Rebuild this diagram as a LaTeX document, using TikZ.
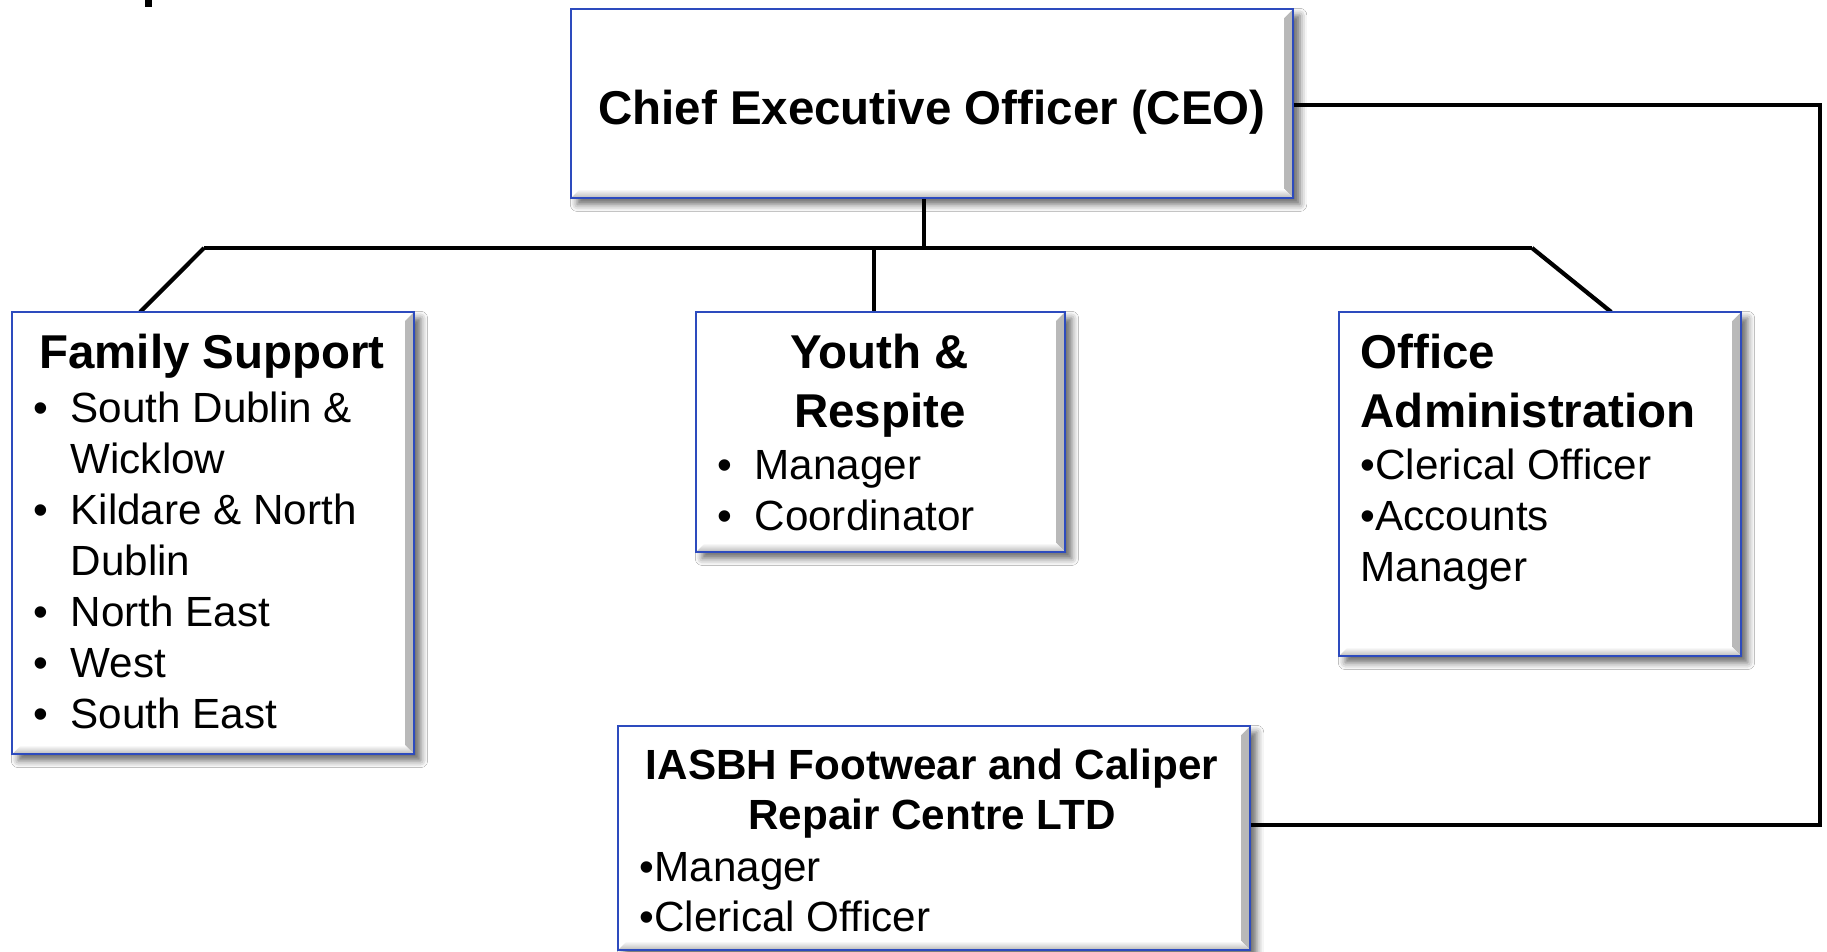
\documentclass[tikz,border=0pt]{standalone}
\usepackage{fontspec}
\setmainfont{Liberation Sans}
\usetikzlibrary{shadows.blur,backgrounds}
\definecolor{boxblue}{RGB}{45,75,190}
\newcommand\bul{\makebox[10.5pt][l]{\textbullet}}
\newcommand\bulsp{\hspace*{10.5pt}}
\begin{document}
\begin{tikzpicture}[x=0.01cm,y=-0.01cm,
  box/.style={draw=boxblue, line width=0.6pt, fill=white, inner sep=0pt, outer sep=0pt,
    anchor=north west,
    blur shadow={shadow xshift=1.8pt, shadow yshift=-1.8pt, shadow blur radius=2pt, shadow opacity=60},
    path picture={
      \shade[left color=white, right color=black!28]
        (path picture bounding box.north east) -- (path picture bounding box.south east)
        -- ([shift={(-2.6pt,2.6pt)}]path picture bounding box.south east)
        -- ([shift={(-2.6pt,-2.6pt)}]path picture bounding box.north east) -- cycle;
      \shade[top color=white, bottom color=black!28]
        (path picture bounding box.south west) -- (path picture bounding box.south east)
        -- ([shift={(-2.6pt,2.6pt)}]path picture bounding box.south east)
        -- ([shift={(2.6pt,2.6pt)}]path picture bounding box.south west) -- cycle;
    }},
  conn/.style={line width=1.2pt, black, line join=miter},
  ttl/.style={inner sep=0pt, font=\fontsize{13.5}{16.5}\selectfont\bfseries},
  itm/.style={inner sep=0pt, font=\fontsize{12}{14.5}\selectfont},
]
\useasboundingbox (0,0) rectangle (1827,952);
\fill[black] (145,0) rectangle (152,7);

% boxes
\node[box, minimum width=7.22cm, minimum height=1.89cm] (ceo) at (571,9) {};
\node[ttl, anchor=base] (ceoT) at (932,125) {Chief Executive Officer (CEO)};

\node[box, minimum width=4.02cm, minimum height=4.42cm] (fam) at (12,312) {};
\node[ttl, anchor=base] (famT) at (212,369) {Family Support};
\node[itm, anchor=base west] (famL) at (33,423) {\begin{tabular}[t]{@{}l@{}}\bul South Dublin \&\\ \bulsp Wicklow\\ \bul Kildare \& North\\ \bulsp Dublin\\ \bul North East\\ \bul West\\ \bul South East\end{tabular}};

\node[box, minimum width=3.69cm, minimum height=2.40cm] (youth) at (696,312) {};
\node[ttl, anchor=base] (youthT) at (880,369) {\begin{tabular}[t]{@{}c@{}}Youth \&\\ Respite\end{tabular}};
\node[itm, anchor=base west] (youthL) at (717,480) {\begin{tabular}[t]{@{}l@{}}\bul Manager\\ \bul Coordinator\end{tabular}};

\node[box, minimum width=4.02cm, minimum height=3.44cm] (office) at (1339,312) {};
\node[ttl, anchor=base west] (officeT) at (1360,369) {\begin{tabular}[t]{@{}l@{}}Office\\ Administration\end{tabular}};
\node[itm, anchor=base west] (officeL) at (1360,480) {\begin{tabular}[t]{@{}l@{}}\textbullet Clerical Officer\\ \textbullet Accounts\\ Manager\end{tabular}};

\node[box, minimum width=6.32cm, minimum height=2.24cm] (iasbh) at (618,726) {};
\node[itm, font=\fontsize{12}{14.5}\selectfont\bfseries, anchor=base] (iasbhT) at (932,779) {\begin{tabular}[t]{@{}c@{}}IASBH Footwear and Caliper\\ Repair Centre LTD\end{tabular}};
\node[itm, anchor=base west] (iasbhL) at (639,881) {\begin{tabular}[t]{@{}l@{}}\textbullet Manager\\ \textbullet Clerical Officer\end{tabular}};

% connectors
\coordinate (busL) at (204,248);
\coordinate (busR) at (1532,248);
\coordinate (rt) at (1820,105);
\coordinate (rb) at (1820,825);
\begin{scope}[on background layer]
\fill[white] (0,0) rectangle (1827,952);
\draw[conn] (busL) -- (busR);
\draw[conn] ([xshift=-0.08cm]ceo.south) -- ([xshift=-0.08cm]ceo.south |- busL);
\draw[conn] (busL) -- ([xshift=1.28cm]fam.north west);
\draw[conn] ([xshift=-0.07cm]youth.north |- busL) -- ([xshift=-0.07cm]youth.north);
\draw[conn] (busR) -- ([xshift=-1.30cm]office.north east);
\draw[conn] (ceo.east |- rt) -- (rt) -- (rb) -- (rb -| iasbh.east);
\end{scope}
\end{tikzpicture}
\end{document}
